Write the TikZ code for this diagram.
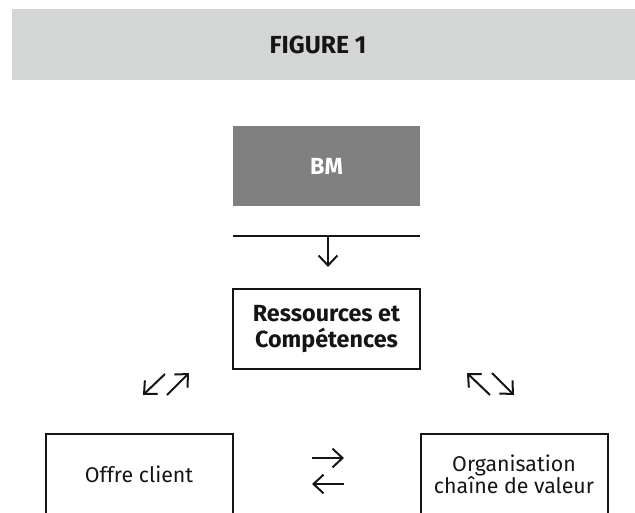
\documentclass[tikz,border=0pt]{standalone}
\usepackage{fontspec}
\setmainfont{Fira Sans}
\usepackage{tikz}
\usetikzlibrary{arrows.meta}
\usetikzlibrary{positioning}

\definecolor{bannergrey}{HTML}{D4D5D5}
\definecolor{bmgrey}{HTML}{7F807F}
\definecolor{inkblack}{HTML}{151515}

\tikzset{
  box/.style={draw=inkblack, line width=1.5pt, minimum width=140.25pt, minimum height=60pt, inner sep=0pt, align=center, text=inkblack},
  boldbox/.style={box, font=\bfseries\fontsize{17.5}{19.5}\selectfont},
  plainbox/.style={box, font=\fontsize{16}{16.5}\selectfont},
  flow/.style={draw=inkblack, line width=1.5pt, -{Straight Barb[length=7.5pt,width=14pt,line width=1.5pt]}}
}

\begin{document}
\begin{tikzpicture}[x=0.75pt,y=0.75pt,yscale=-1,xscale=1]
  \useasboundingbox (0,0) rectangle (635,512);

  % banner
  \fill[bannergrey] (12,9) rectangle (635,80);
  \node (title) at (318,44.5) [text=inkblack, font=\bfseries\fontsize{18.5}{20}\selectfont] {FIGURE 1};

  % top box and bar
  \node (bm) at (326.5,166) [boldbox, draw=none, fill=bmgrey, text=white] {BM};
  \coordinate (barL) at (233,236);
  \coordinate (barR) at (420,236);
  \coordinate (barM) at (328,236);
  \coordinate (barTip) at (328,267);
  \draw[inkblack, line width=2pt] (barL) -- (barR);
  \draw[flow] (barM) -- (barTip);

  % boxes
  \node (rc) at (326.5,329) [boldbox] {Ressources et\\Comp\'etences};
  \node (offre) at (139,474) [plainbox] {Offre client};
  \node (orga) at (514,474) [plainbox] {Organisation\\cha\^ine de valeur};

  % left pair
  \coordinate (lA) at (165,374);
  \coordinate (lB) at (143,395);
  \coordinate (lC) at (167,395);
  \coordinate (lD) at (189,373);
  \draw[flow] (lA) -- (lB);
  \draw[flow] (lC) -- (lD);

  % right pair
  \coordinate (rA) at (490,395);
  \coordinate (rB) at (467,373);
  \coordinate (rC) at (492,373);
  \coordinate (rD) at (514,395);
  \draw[flow] (rA) -- (rB);
  \draw[flow] (rC) -- (rD);

  % middle pair
  \coordinate (mA) at (312,458);
  \coordinate (mB) at (344,458);
  \coordinate (mC) at (344,484);
  \coordinate (mD) at (312,484);
  \draw[flow] (mA) -- (mB);
  \draw[flow] (mC) -- (mD);

\end{tikzpicture}
\end{document}
